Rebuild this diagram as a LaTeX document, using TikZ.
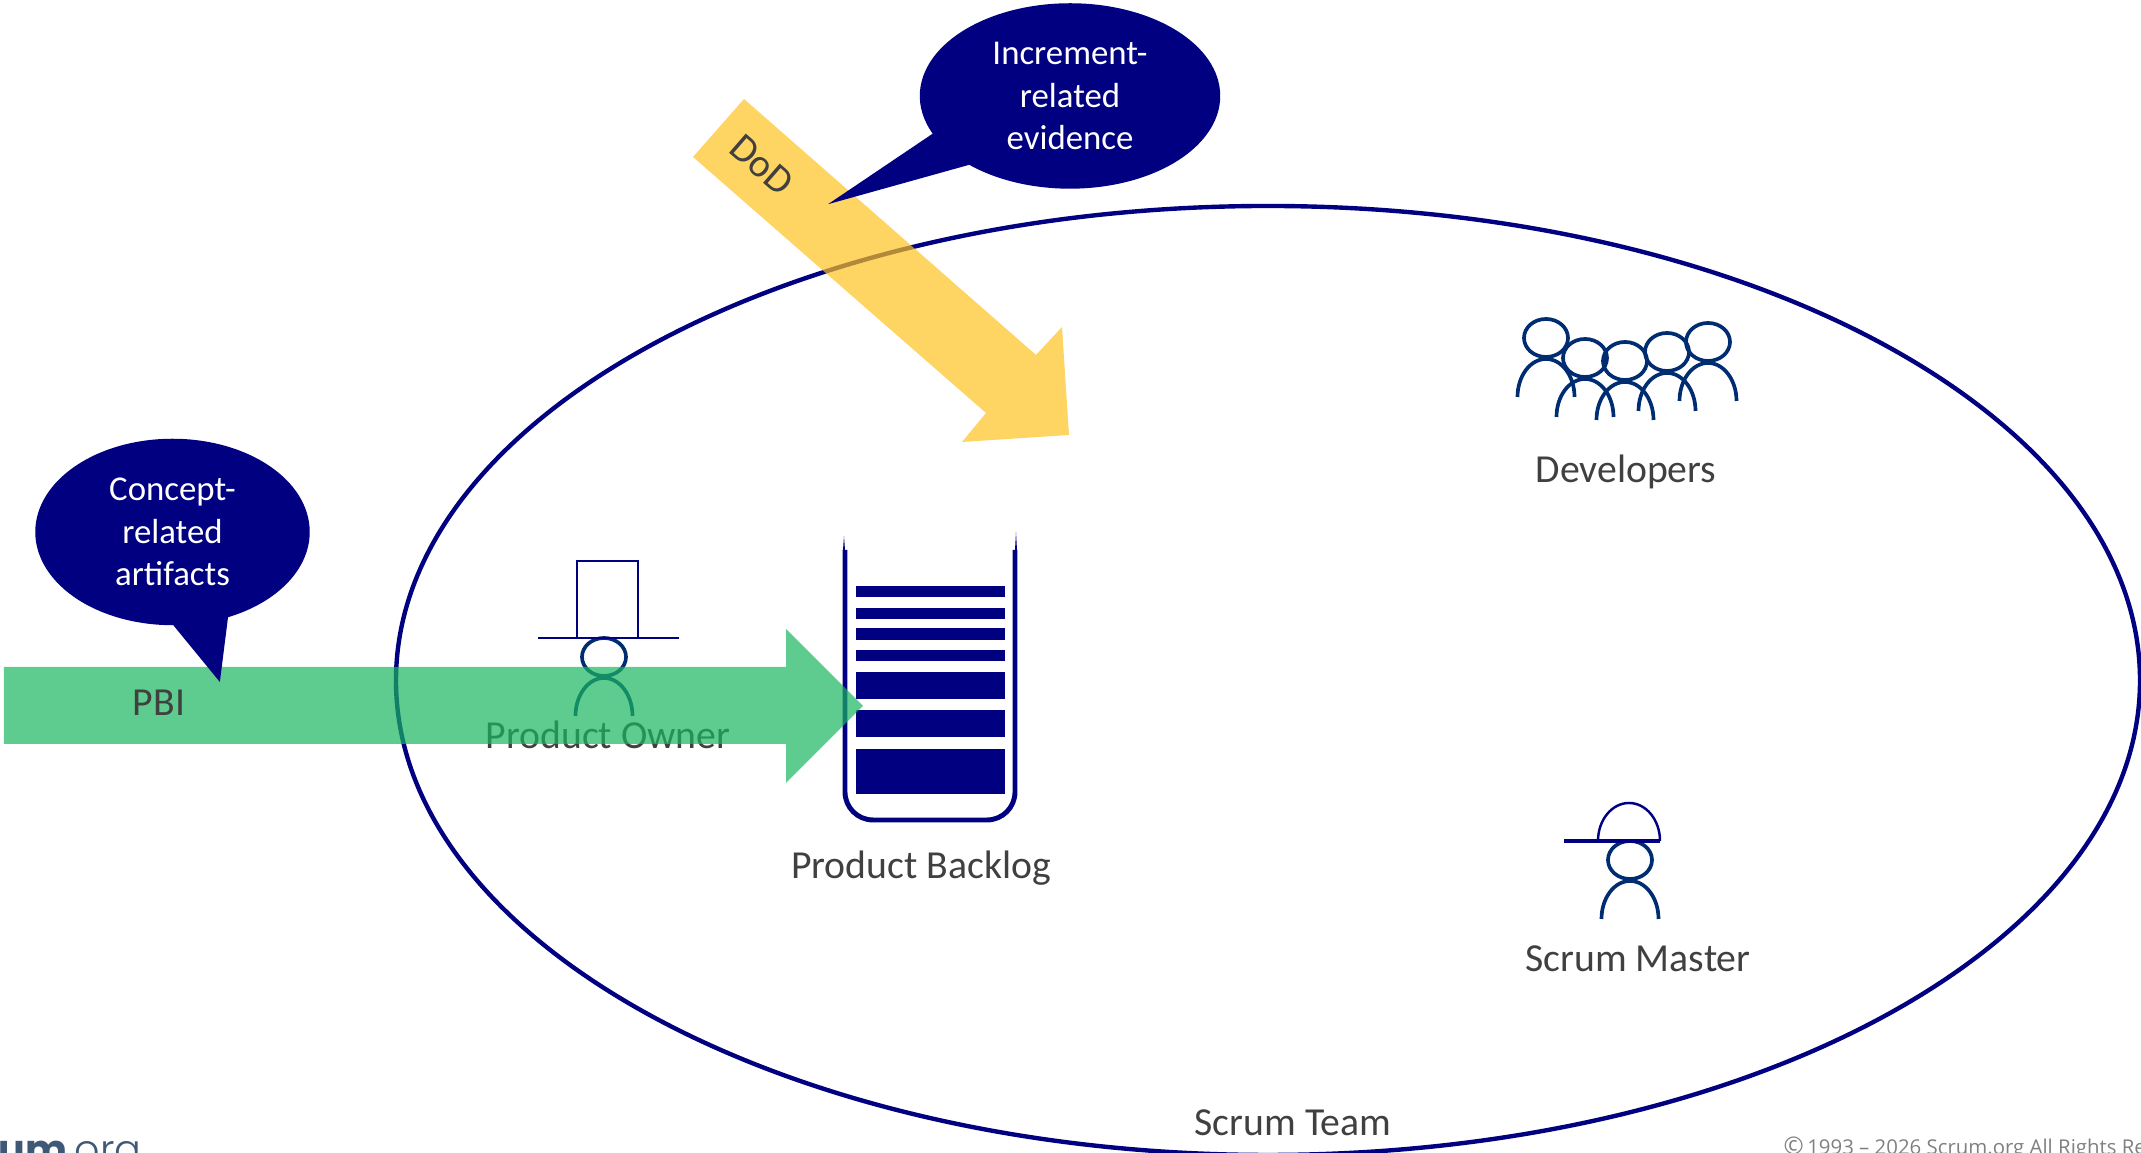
\documentclass[tikz,border=0pt]{standalone}
\usepackage{fontspec}
\setmainfont{Carlito}
\newfontfamily\smallprint{Open Sans}
\newfontfamily\logotype{Poppins}
\newfontfamily\logolight{Poppins Light}
\usepackage{tikz}
\usetikzlibrary{shapes.callouts}

\definecolor{navyline}{HTML}{000080}
\definecolor{figureblue}{HTML}{002D72}
\definecolor{labelgrey}{HTML}{404040}
\definecolor{logoblue}{HTML}{3F5878}
\definecolor{pbigreen}{RGB}{26,181,95}
\definecolor{dodyellow}{RGB}{254,194,31}

\tikzset{
	label text/.style={text=labelgrey, inner sep=0pt, anchor=base, font=\fontsize{11.3pt}{13pt}\selectfont},
	bubble/.style={ellipse callout, fill=navyline, draw=navyline, line width=0.7pt, text=white, align=center, inner sep=0pt, callout pointer arc=23, font=\fontsize{9.9pt}{12pt}\selectfont},
	thin navy/.style={draw=navyline, line width=0.7pt},
	figure line/.style={draw=figureblue, line width=1.05pt},
	pics/person/.style={code={
		\draw[figure line] (0,0) ellipse (0.22cm and 0.19cm);
		\draw[figure line] (-0.285cm,-0.59cm) arc[start angle=180, end angle=0, x radius=0.285cm, y radius=0.38cm];
	}},
}

\begin{document}
\begin{tikzpicture}
	\useasboundingbox (0.00cm,0.00cm) rectangle (21.41cm,11.53cm);

	%Team
	\draw[navyline, line width=1.25pt] (12.68cm,4.725cm) ellipse (8.72cm and 4.745cm);
	\node[label text] (TeamLabel) at (12.93cm,0.17cm) {Scrum Team};

	%Developers
	\foreach \hx/\hy in {15.46/8.15, 15.85/7.95, 16.25/7.92, 16.67/8.01, 17.08/8.11}{
		\pic at (\hx cm,\hy cm) {person};
	}
	\node[label text] (DevLabel) at (16.26cm,6.70cm) {Developers};

	%Scrum Master
	\pic at (16.30cm,2.93cm) {person};
	\draw[thin navy] (15.98cm,3.12cm) arc[start angle=180, end angle=0, x radius=0.31cm, y radius=0.38cm];
	\draw[navyline, line width=0.9pt] (15.64cm,3.12cm) -- (16.60cm,3.12cm);
	\node[label text] (SMLabel) at (16.38cm,1.81cm) {Scrum Master};

	%Product Owner
	\pic at (6.04cm,4.96cm) {person};
	\draw[thin navy] (5.77cm,5.15cm) rectangle (6.38cm,5.92cm);
	\draw[thin navy] (5.38cm,5.15cm) -- (6.79cm,5.15cm);
	\node[label text] (POLabel) at (6.08cm,4.04cm) {Product Owner};

	%Product Backlog
	\draw[navyline, line width=1.4pt, rounded corners=0.28cm] (8.45cm,6.03cm) -- (8.45cm,3.33cm) -- (10.15cm,3.33cm) -- (10.15cm,6.03cm);
	\fill[navyline] (8.43cm,6.03cm) -- (8.44cm,6.17cm) -- (8.45cm,6.03cm) -- cycle;
	\fill[navyline] (10.15cm,6.03cm) -- (10.16cm,6.21cm) -- (10.17cm,6.03cm) -- cycle;
	\foreach \ya/\yb in {5.67/5.56, 5.45/5.34, 5.25/5.13, 5.03/4.92, 4.81/4.54, 4.43/4.16, 4.04/3.59}{
		\fill[navyline] (8.56cm,\ya cm) rectangle (10.05cm,\yb cm);
	}
	\node[label text] (PBLabel) at (9.21cm,2.74cm) {Product Backlog};

	%Arrows
	\fill[pbigreen, fill opacity=0.7] (0.04cm,4.86cm) -- (7.86cm,4.86cm) -- (7.86cm,5.24cm) -- (8.63cm,4.47cm) -- (7.86cm,3.70cm) -- (7.86cm,4.09cm) -- (0.04cm,4.09cm) -- cycle;
	\fill[dodyellow, fill opacity=0.7] (7.44cm,10.54cm) -- (10.36cm,7.98cm) -- (10.62cm,8.26cm) -- (10.69cm,7.18cm) -- (9.62cm,7.11cm) -- (9.86cm,7.40cm) -- (6.93cm,9.96cm) -- cycle;
	\node[label text] (PBI) at (1.59cm,4.37cm) {PBI};
	\node[label text, anchor=center, rotate=-41] (DoD) at (7.62cm,9.88cm) {DoD};

	%Callouts
	\node[bubble, minimum width=2.72cm, minimum height=1.84cm, callout absolute pointer={(2.19cm,4.74cm)}] (Concept) at (1.725cm,6.21cm) {Concept-\\related\\artifacts};
	\node[bubble, minimum width=2.98cm, minimum height=1.83cm, callout absolute pointer={(8.35cm,9.52cm)}] (Increment) at (10.70cm,10.57cm) {Increment-\\related\\evidence};

	%Footer
	\node[text=gray, inner sep=0pt, anchor=base west, font=\smallprint\fontsize{5.8pt}{7pt}\selectfont] (Rights) at (17.83cm,-0.02cm) {{\fontsize{6.9pt}{7pt}\selectfont ©}\,1993 – 2026 Scrum.org All Rights Re};
	\node[text=logoblue, inner sep=0pt, anchor=base west, font=\fontsize{11.3pt}{13pt}\selectfont] (Logo) at (-0.02cm,-0.11cm) {{\logotype\bfseries um}{\logolight .org}};
\end{tikzpicture}
\end{document}
